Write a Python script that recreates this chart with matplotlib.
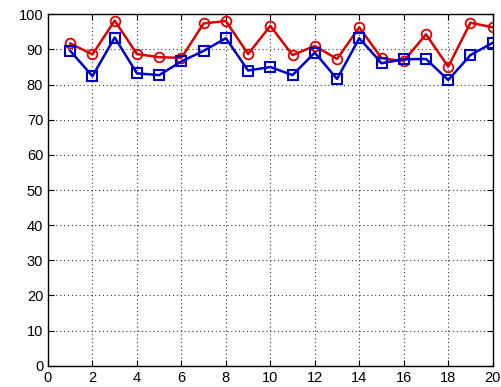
import matplotlib
matplotlib.use("Agg")
import matplotlib.pyplot as plt

plt.rcParams['font.family'] = ['Liberation Sans', 'DejaVu Sans']

# Datos
x = list(range(1, 21))
rojo = [91.7, 88.6, 98.2, 88.7, 87.8, 87.6, 97.4, 98.1, 88.7, 96.7,
        88.4, 91.0, 87.3, 96.3, 87.5, 86.7, 94.3, 85.1, 97.6, 96.3]
azul = [89.6, 82.4, 93.4, 83.2, 82.7, 86.6, 89.6, 93.2, 84.0, 85.0,
        82.7, 89.1, 81.6, 93.2, 86.1, 87.2, 87.3, 81.3, 88.4, 91.9]

fig = plt.figure(figsize=(5.01, 3.87), dpi=100)
ax = fig.add_axes([0.0958, 0.055, 0.8876, 0.908])

ax.plot(x, rojo, color='#dd0000', marker='o', markersize=7, markerfacecolor='none',
        markeredgewidth=1.3, linewidth=1.8)
ax.plot(x, azul, color='#0000cc', marker='s', markersize=7, markerfacecolor='none',
        markeredgewidth=1.5, linewidth=1.8)

ax.set_xlim(0, 20)
ax.set_ylim(0, 100)
ax.set_xticks(range(0, 21, 2))
ax.set_yticks(range(0, 101, 10))
ax.grid(True, linestyle=(0, (1, 2.5)), color='#333333', linewidth=0.8)
ax.tick_params(direction='in', labelsize=10.5, length=4, top=True, right=True,
               labeltop=False, labelright=False)
for s in ax.spines.values():
    s.set_linewidth(1.0)

fig.savefig("out.png", dpi=100)
plt.close()
